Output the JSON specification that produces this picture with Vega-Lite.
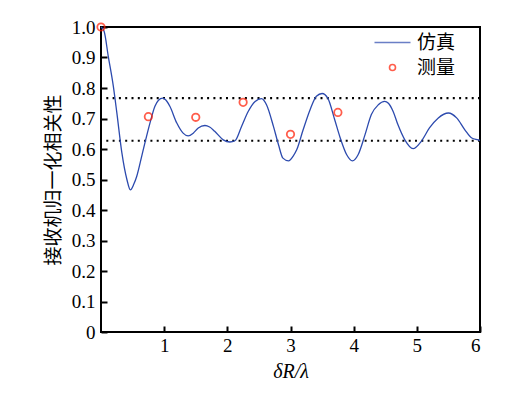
{
  "$schema": "https://vega.github.io/schema/vega-lite/v6.json",
  "width": 379,
  "height": 305,
  "autosize": {"type": "none"},
  "padding": {"left": 101, "top": 27, "right": 45, "bottom": 63},
  "background": "white",
  "config": {
    "view": {"stroke": "#000", "strokeWidth": 2},
    "axis": {
      "grid": false,
      "domain": false,
      "tickColor": "#000",
      "tickWidth": 2,
      "tickSize": -6,
      "labelFont": "Liberation Serif",
      "labelFontSize": 19,
      "labelColor": "#000",
      "titleColor": "#000"
    }
  },
  "datasets": {
    "sim": [
      {"x": 0, "y": 1.0}, {"x": 0.05, "y": 0.985}, {"x": 0.115, "y": 0.904}, {"x": 0.195, "y": 0.806},
      {"x": 0.25, "y": 0.72}, {"x": 0.33, "y": 0.588}, {"x": 0.41, "y": 0.5}, {"x": 0.465, "y": 0.466},
      {"x": 0.52, "y": 0.485}, {"x": 0.565, "y": 0.51}, {"x": 0.644, "y": 0.576}, {"x": 0.707, "y": 0.63},
      {"x": 0.775, "y": 0.685}, {"x": 0.854, "y": 0.74}, {"x": 0.91, "y": 0.76}, {"x": 0.976, "y": 0.767},
      {"x": 1.03, "y": 0.76}, {"x": 1.09, "y": 0.74}, {"x": 1.2, "y": 0.685}, {"x": 1.3, "y": 0.652},
      {"x": 1.38, "y": 0.643}, {"x": 1.46, "y": 0.652}, {"x": 1.54, "y": 0.669}, {"x": 1.645, "y": 0.677},
      {"x": 1.72, "y": 0.672}, {"x": 1.8, "y": 0.658}, {"x": 1.935, "y": 0.63}, {"x": 2.04, "y": 0.623},
      {"x": 2.12, "y": 0.627}, {"x": 2.225, "y": 0.674}, {"x": 2.33, "y": 0.723}, {"x": 2.44, "y": 0.756},
      {"x": 2.54, "y": 0.765}, {"x": 2.62, "y": 0.745}, {"x": 2.73, "y": 0.674}, {"x": 2.81, "y": 0.614},
      {"x": 2.88, "y": 0.57}, {"x": 2.97, "y": 0.561}, {"x": 3.04, "y": 0.576}, {"x": 3.1, "y": 0.598},
      {"x": 3.2, "y": 0.663}, {"x": 3.31, "y": 0.729}, {"x": 3.41, "y": 0.773}, {"x": 3.5, "y": 0.782},
      {"x": 3.59, "y": 0.767}, {"x": 3.7, "y": 0.696}, {"x": 3.78, "y": 0.641}, {"x": 3.89, "y": 0.581},
      {"x": 3.98, "y": 0.561}, {"x": 4.07, "y": 0.581}, {"x": 4.18, "y": 0.647}, {"x": 4.28, "y": 0.713},
      {"x": 4.39, "y": 0.745}, {"x": 4.49, "y": 0.756}, {"x": 4.55, "y": 0.75}, {"x": 4.625, "y": 0.723},
      {"x": 4.7, "y": 0.68}, {"x": 4.81, "y": 0.63}, {"x": 4.94, "y": 0.601}, {"x": 5.07, "y": 0.625},
      {"x": 5.2, "y": 0.669}, {"x": 5.34, "y": 0.702}, {"x": 5.5, "y": 0.718}, {"x": 5.63, "y": 0.702},
      {"x": 5.76, "y": 0.663}, {"x": 5.87, "y": 0.636}, {"x": 5.97, "y": 0.63}, {"x": 6.0, "y": 0.628}
    ],
    "meas": [
      {"x": 0, "y": 1.0}, {"x": 0.75, "y": 0.706}, {"x": 1.5, "y": 0.704},
      {"x": 2.25, "y": 0.753}, {"x": 3.0, "y": 0.648}, {"x": 3.75, "y": 0.72}
    ],
    "thr": [{"y": 0.767}, {"y": 0.627}]
  },
  "layer": [
    {
      "data": {"name": "thr"},
      "mark": {"type": "rule", "color": "#000", "strokeWidth": 2.2, "strokeDash": [2, 4.3]},
      "encoding": {
        "y": {
          "field": "y", "type": "quantitative",
          "scale": {"domain": [0, 1], "nice": false},
          "axis": {"values": [0, 0.1, 0.2, 0.3, 0.4, 0.5, 0.6, 0.7, 0.8, 0.9, 1.0], "labelExpr": "datum.value == 0 ? '0' : format(datum.value, '.1f')", "title": "接收机归一化相关性", "titleFont": "Noto Sans CJK SC", "titleFontWeight": "normal", "titleFontSize": 19, "titlePadding": 8, "labelPadding": 12}
        }
      }
    },
    {
      "data": {"name": "sim"},
      "transform": [{"calculate": "'仿真'", "as": "s"}],
      "mark": {"type": "line", "strokeWidth": 1.3, "interpolate": "monotone"},
      "encoding": {
        "x": {
          "field": "x", "type": "quantitative",
          "scale": {"domain": [0, 6], "nice": false},
          "axis": {"values": [1, 2, 3, 4, 5, 6], "format": "d", "title": "δR/λ", "titleFont": "Liberation Serif", "titleFontStyle": "italic", "titleFontWeight": "normal", "titleFontSize": 20, "titlePadding": 6, "labelPadding": 10}
        },
        "y": {
          "field": "y", "type": "quantitative",
          "axis": {"values": [0, 0.1, 0.2, 0.3, 0.4, 0.5, 0.6, 0.7, 0.8, 0.9, 1.0], "labelExpr": "datum.value == 0 ? '0' : format(datum.value, '.1f')", "title": "接收机归一化相关性", "titleFont": "Noto Sans CJK SC", "titleFontWeight": "normal", "titleFontSize": 19, "titlePadding": 8, "labelPadding": 12}
        },
        "color": {
          "field": "s", "type": "nominal",
          "scale": {"domain": ["仿真", "测量"], "range": ["#2c4aae", "#ff1a00"]}
        }
      }
    },
    {
      "data": {"name": "meas"},
      "transform": [{"calculate": "'测量'", "as": "s"}],
      "mark": {"type": "point", "filled": false, "size": 55, "strokeWidth": 1.8, "clip": false},
      "encoding": {
        "x": {
          "field": "x", "type": "quantitative",
          "axis": {"values": [1, 2, 3, 4, 5, 6], "format": "d", "title": "δR/λ", "titleFont": "Liberation Serif", "titleFontStyle": "italic", "titleFontWeight": "normal", "titleFontSize": 20, "titlePadding": 6, "labelPadding": 10}
        },
        "y": {
          "field": "y", "type": "quantitative",
          "axis": {"values": [0, 0.1, 0.2, 0.3, 0.4, 0.5, 0.6, 0.7, 0.8, 0.9, 1.0], "labelExpr": "datum.value == 0 ? '0' : format(datum.value, '.1f')", "title": "接收机归一化相关性", "titleFont": "Noto Sans CJK SC", "titleFontWeight": "normal", "titleFontSize": 19, "titlePadding": 8, "labelPadding": 12}
        },
        "color": {
          "field": "s", "type": "nominal",
          "scale": {"domain": ["仿真", "测量"], "range": ["#2c4aae", "#ff1a00"]}
        }
      }
    },
    {
      "data": {"values": [{"s": "仿真"}, {"s": "测量"}]},
      "mark": {"type": "point", "opacity": 0, "filled": false},
      "encoding": {
        "color": {
          "field": "s", "type": "nominal",
          "scale": {"domain": ["仿真", "测量"], "range": ["#2c4aae", "#ff1a00"]},
          "legend": {
            "title": null, "orient": "none", "legendX": 282, "legendY": 6,
            "symbolSize": 36, "symbolStrokeWidth": 1.6, "symbolFillColor": "transparent", "symbolOpacity": 1,
            "labelFont": "Noto Sans CJK SC", "labelFontSize": 19, "labelColor": "#000",
            "rowPadding": 5, "labelOffset": 15
          }
        },
        "shape": {
          "field": "s", "type": "nominal",
          "scale": {"domain": ["仿真", "测量"], "range": ["M-6,0H6", "circle"]},
          "legend": {
            "title": null, "orient": "none", "legendX": 282, "legendY": 6,
            "symbolSize": 36, "symbolStrokeWidth": 1.6, "symbolFillColor": "transparent", "symbolOpacity": 1,
            "labelFont": "Noto Sans CJK SC", "labelFontSize": 19, "labelColor": "#000",
            "rowPadding": 5, "labelOffset": 15
          }
        }
      }
    }
  ]
}
